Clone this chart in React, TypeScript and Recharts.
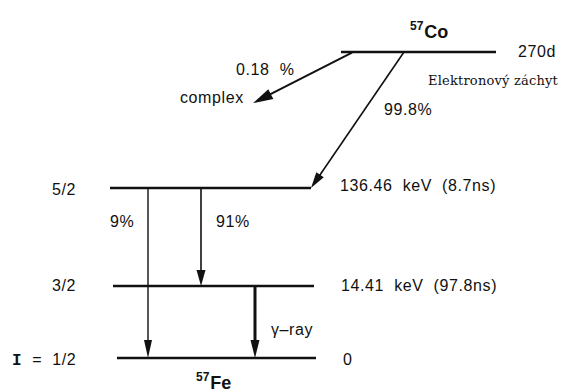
import React from 'react';
import { LineChart, XAxis, YAxis, ReferenceLine, ReferenceDot } from 'recharts';

// Energy levels (schematic height units; ground state = 0)
const levelNames = ['57Co', '136.46 keV', '14.41 keV', '0 keV'];
const levelHeights = [4.25, 2.361, 1, 0];
const levelStartX = [341, 110, 113, 117];
const levelEndX = [496, 311, 314, 316];

// Transitions (arrows)
const transitionNames = ['complex', 'EC 99.8%', '9%', '91%', 'γ-ray'];
const transFromX = [352, 404, 148, 201, 255];
const transFromY = [4.24, 4.25, 2.361, 2.361, 1];
const transToX = [253, 311, 148, 201, 255];
const transToY = [3.54, 2.361, 0, 1, 0];
const transWidth = [2, 1.6, 1.4, 1.6, 3];
const transHead = [20, 16, 18, 16, 18];
const transHeadW = [11, 9, 8, 9, 9];

// Text labels
const labelTexts = ['0.18\u00a0 %', 'complex', '99.8%', '5/2', '136.46\u00a0 keV\u00a0 (8.7ns)', '9%', '91%', '3/2', '14.41\u00a0 keV\u00a0 (97.8ns)', 'γ–ray', '0', '270d'];
const labelX = [236, 180, 384, 52, 340, 110, 216, 52, 341, 271, 343, 518];
const labelY = [3.931, 3.542, 3.375, 2.264, 2.319, 1.819, 1.819, 0.931, 0.931, 0.319, -0.097, 4.181];

const ink = '#111';
const sans = '"Liberation Sans", Arial, Helvetica, sans-serif';

const Arrow = (w: number, head: number, headW: number) => (p: any) => {
  const x1 = Number(p.x1), y1 = Number(p.y1), x2 = Number(p.x2), y2 = Number(p.y2);
  const dx = x2 - x1, dy = y2 - y1;
  const len = Math.sqrt(dx * dx + dy * dy) || 1;
  const ux = dx / len, uy = dy / len;
  const bx = x2 - ux * head, by = y2 - uy * head;
  const px = -uy * headW / 2, py = ux * headW / 2;
  return (
    <g>
      <line x1={x1} y1={y1} x2={bx + ux * 2} y2={by + uy * 2} stroke={ink} strokeWidth={w} />
      <polygon points={`${x2},${y2} ${bx + px},${by + py} ${bx - px},${by - py}`} fill={ink} />
    </g>
  );
};

const TextShape = (txt: string) => (p: any) => (
  <text x={p.cx} y={p.cy} fontFamily={sans} fontSize={16} letterSpacing={0.6} fill={ink}>{txt}</text>
);

export default function App() {
  return (
    <div style={{ position: 'absolute', left: 0, top: 0, width: 563, height: 392, background: '#fff' }}>
      <LineChart width={563} height={392} margin={{ top: 0, right: 0, bottom: 0, left: 0 }} data={[]}>
        <XAxis type="number" dataKey="x" domain={[0, 563]} hide allowDataOverflow />
        <YAxis type="number" domain={[-34 / 72, 358 / 72]} hide allowDataOverflow />
        {levelNames.map((n, i) => (
          <ReferenceLine
            key={n}
            segment={[{ x: levelStartX[i], y: levelHeights[i] }, { x: levelEndX[i], y: levelHeights[i] }]}
            stroke={ink}
            strokeWidth={2.4}
            ifOverflow="visible"
          />
        ))}
        {transitionNames.map((n, i) => (
          <ReferenceLine
            key={n}
            segment={[{ x: transFromX[i], y: transFromY[i] }, { x: transToX[i], y: transToY[i] }]}
            ifOverflow="visible"
            shape={Arrow(transWidth[i], transHead[i], transHeadW[i])}
          />
        ))}
        {labelTexts.map((t, i) => (
          <ReferenceDot key={t} x={labelX[i]} y={labelY[i]} r={0} ifOverflow="visible" shape={TextShape(t)} />
        ))}
        <ReferenceDot
          x={12}
          y={-0.097}
          r={0}
          ifOverflow="visible"
          shape={(p: any) => (
            <text x={p.cx} y={p.cy} fontFamily={sans} fontSize={16} letterSpacing={0.6} fill={ink}>
              <tspan fontFamily='"Liberation Mono", "DejaVu Sans Mono", monospace' fontWeight="bold">I</tspan>
              <tspan>{'\u00a0 =\u00a0 1/2'}</tspan>
            </text>
          )}
        />
        <ReferenceDot
          x={410}
          y={4.444}
          r={0}
          ifOverflow="visible"
          shape={(p: any) => (
            <text x={p.cx} y={p.cy} fontFamily={sans} fill={ink}>
              <tspan fontSize={12} fontWeight="bold" dy={-8}>57</tspan>
              <tspan fontSize={18} fontWeight="bold" dy={8} dx={1}>Co</tspan>
            </text>
          )}
        />
        <ReferenceDot
          x={196}
          y={-0.43}
          r={0}
          ifOverflow="visible"
          shape={(p: any) => (
            <text x={p.cx} y={p.cy} fontFamily={sans} fill={ink}>
              <tspan fontSize={12} fontWeight="bold" dy={-8}>57</tspan>
              <tspan fontSize={18} fontWeight="bold" dy={8} dx={1}>Fe</tspan>
            </text>
          )}
        />
        <ReferenceDot
          x={428}
          y={3.792}
          r={0}
          ifOverflow="visible"
          shape={(p: any) => (
            <text x={p.cx} y={p.cy} fontFamily='"DejaVu Serif", serif' fontSize={13} letterSpacing={0.2} fill={ink}>Elektronový záchyt</text>
          )}
        />
      </LineChart>
    </div>
  );
}
